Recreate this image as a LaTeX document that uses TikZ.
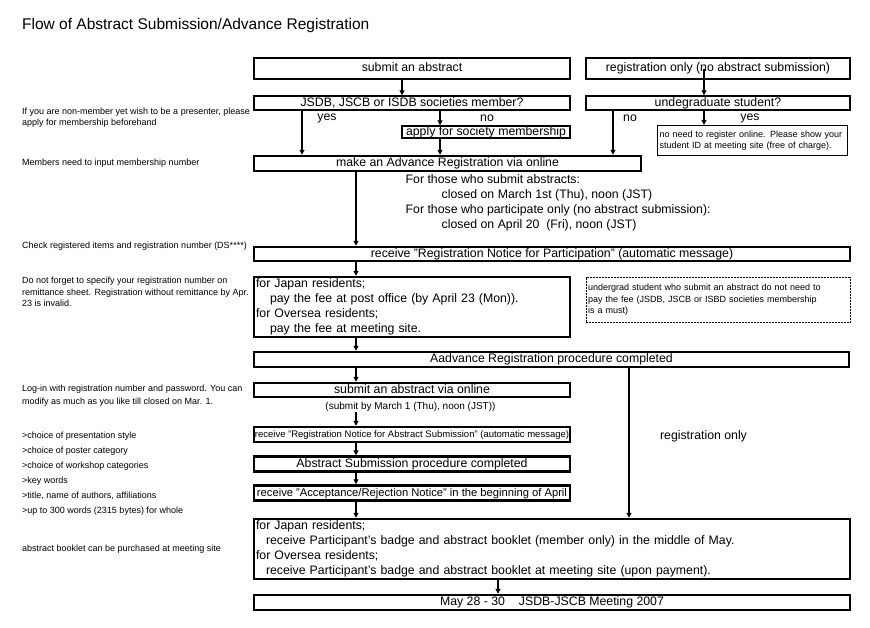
\documentclass[tikz,border=0pt]{standalone}
\usepackage{fontspec}
\setmainfont{Liberation Sans}
\usetikzlibrary{arrows.meta}

\begin{document}
\begin{tikzpicture}[x=1pt,y=-1pt,>={Triangle[length=5pt,width=5pt]},
  big/.style={font=\fontsize{12.3}{15.2}\selectfont},
  small/.style={font=\fontsize{9}{11.6}\selectfont},
  box/.style={draw,rectangle,inner sep=0pt,line width=2.5pt,big,text height=9pt,text depth=2.5pt},
  thin box/.style={box,line width=1.4pt},
  text box/.style={draw,rectangle,inner xsep=2pt,inner ysep=0pt,line width=2.5pt,big,align=left},
  note/.style={small,anchor=west,align=left,inner sep=0pt},
  label/.style={big,inner sep=0pt}]
  \useasboundingbox (0,0) rectangle (870,627);

  \node[anchor=west,inner sep=0pt,font=\fontsize{15.5}{18}\selectfont] (title) at (22,25) {Flow of Abstract Submission/Advance Registration};

  % notes on the left
  \node[note] (n1) at (22,117.5) {If you are non-member yet wish to be a presenter, please\\apply for membership beforehand};
  \node[note] (n2) at (22,163) {Members need to input membership number};
  \node[note] (n3) at (22,246) {Check registered items and registration number (DS****)};
  \node[note] (n4) at (22,292) {Do not forget to specify your registration number on\\remittance sheet. Registration without remittance by Apr.\\23 is invalid.};
  \node[note,font=\fontsize{9}{13}\selectfont] (n5) at (22,395.5) {Log-in with registration number and password. You can\\modify as much as you like till closed on Mar. 1.};
  \node[note,font=\fontsize{9}{15}\selectfont] (n6) at (22,473.5) {>choice of presentation style\\>choice of poster category\\>choice of workshop categories\\>key words\\>title, name of authors, affiliations\\>up to 300 words (2315 bytes) for whole};
  \node[note] (n7) at (22,549) {abstract booklet can be purchased at meeting site};

  % boxes
  \node[box,minimum width=316pt,minimum height=21pt] (sub) at (412,68.5) {submit an abstract};
  \node[box,minimum width=264pt,minimum height=21pt] (regonly) at (718,68.5) {registration only (no abstract submission)};
  \node[thin box,minimum width=316pt,minimum height=14pt] (member) at (412,103) {JSDB, JSCB or ISDB societies member?};
  \node[thin box,minimum width=264pt,minimum height=14pt] (ugrad) at (718,103) {undegraduate student?};
  \node[thin box,minimum width=168pt,minimum height=12pt] (apply) at (486,132) {apply for society membership};
  \node[box,minimum width=387pt,minimum height=15pt] (make) at (447.5,163.5) {make an Advance Registration via online};
  \node[text box,small,line width=1.2pt,text width=186pt,minimum height=30pt] (note) at (752.5,140.5) {no need to register online. Please show your\\student ID at meeting site (free of charge).};
  \node[big,anchor=west,align=left,inner sep=0pt] (close) at (405.5,203) {For those who submit abstracts:\\\hspace*{36pt}closed on March 1st (Thu), noon (JST)\\For those who participate only (no abstract submission):\\\hspace*{36pt}closed on April 20\ \ (Fri), noon (JST)};
  \node[box,minimum width=596pt,minimum height=14pt] (notice) at (552,254) {receive "Registration Notice for Participation" (automatic message)};
  \node[text box,text width=312pt,minimum height=60pt] (fee) at (412,307) {for Japan residents;\\\hspace*{14pt}pay the fee at post office (by April 23 (Mon)).\\for Oversea residents;\\\hspace*{14pt}pay the fee at meeting site.};
  \node[text box,small,line width=1pt,dash pattern=on 2pt off 1pt,text width=260pt,minimum height=45pt] (ugfee) at (718,300) {undergrad student who submit an abstract do not need to\\pay the fee (JSDB, JSCB or ISBD societies membership\\is a must)};
  \node[box,minimum width=595pt,minimum height=15pt] (done) at (551.5,359.5) {Aadvance Registration procedure completed};
  \node[box,minimum width=316pt,minimum height=14pt] (online) at (412,390) {submit an abstract via online};
  \node[inner sep=0pt,font=\fontsize{10}{12}\selectfont] (when) at (410.5,407) {(submit by March 1 (Thu), noon (JST))};
  \node[box,font=\fontsize{9.5}{11}\selectfont,minimum width=316pt,minimum height=15pt] (absnotice) at (412,434.5) {receive "Registration Notice for Abstract Submission" (automatic message)};
  \node[box,minimum width=316pt,minimum height=15pt] (absdone) at (412,464) {Abstract Submission procedure completed};
  \node[box,font=\fontsize{11.2}{13}\selectfont,minimum width=316pt,minimum height=15pt] (accept) at (412,493) {receive "Acceptance/Rejection Notice" in the beginning of April};
  \node[text box,text width=592pt,minimum height=60pt] (badge) at (552,549) {for Japan residents;\\\hspace*{10pt}receive Participant's badge and abstract booklet (member only) in the middle of May.\\for Oversea residents;\\\hspace*{10pt}receive Participant's badge and abstract booklet at meeting site (upon payment).};
  \node[box,minimum width=596pt,minimum height=15pt] (meeting) at (552,602.5) {May 28 - 30\hspace{14pt}JSDB-JSCB Meeting 2007};

  % labels
  \node[label] (yes1) at (327,118) {yes};
  \node[label] (no1) at (487,118) {no};
  \node[label] (no2) at (630,118) {no};
  \node[label] (yes2) at (750,118) {yes};
  \node[label] (regl) at (703.5,436) {registration only};

  % columns of the arrows
  \coordinate (ca) at (402,0);
  \coordinate (cy) at (302,0);
  \coordinate (cn) at (440,0);
  \coordinate (cr) at (704,0);
  \coordinate (cu) at (613,0);
  \coordinate (cm) at (356,0);
  \coordinate (cg) at (629,0);
  \coordinate (cb) at (498,0);

  \path[->,line width=1.1pt]
    (ca |- sub.south) edge (ca |- member.north)
    (cr |- regonly.center) edge (cr |- ugrad.north)
    (cy |- member.south) edge (cy |- make.north)
    (cn |- member.south) edge (cn |- apply.north)
    (cn |- apply.south) edge (cn |- make.north)
    (cu |- ugrad.south) edge (cu |- make.north)
    (cr |- ugrad.south) edge (cr |- note.north)
    (cm |- make.south) edge (cm |- notice.north)
    (cm |- notice.south) edge (cm |- fee.north)
    (cm |- fee.south) edge (cm |- done.north)
    (cm |- done.south) edge (cm |- online.north)
    (cm |- when.south) edge (cm |- absnotice.north)
    (cm |- absnotice.south) edge (cm |- absdone.north)
    (cm |- absdone.south) edge (cm |- accept.north)
    (cm |- accept.south) edge (cm |- badge.north)
    (cg |- done.south) edge (cg |- badge.north)
    (cb |- badge.south) edge (cb |- meeting.north);
\end{tikzpicture}
\end{document}
